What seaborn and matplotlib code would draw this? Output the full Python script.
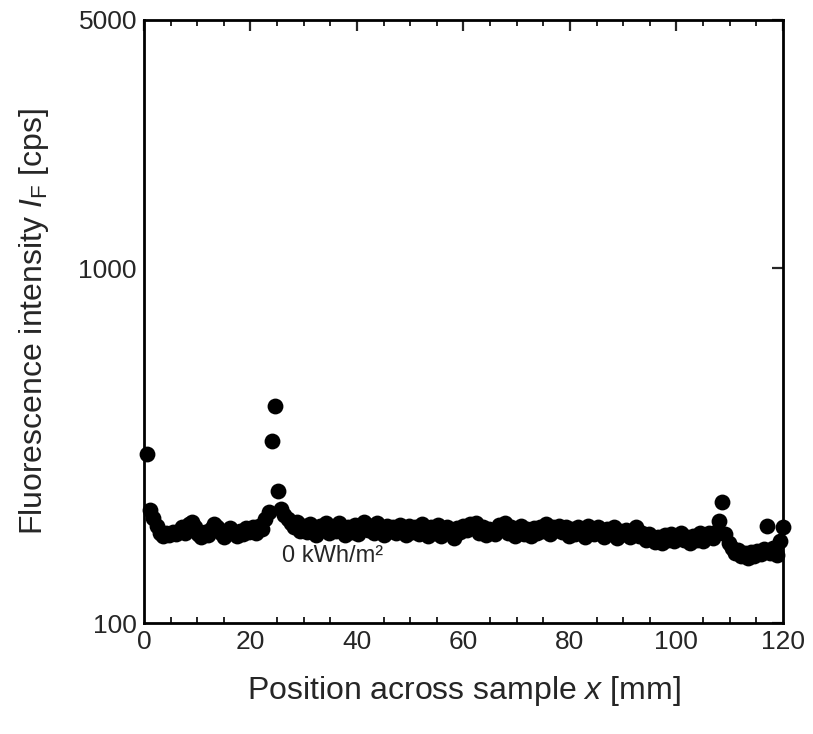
# fluorescence_profile.py
# 繪製樣品橫向位置的螢光強度分佈 (0 kWh/m²)

import numpy as np
import pandas as pd
import matplotlib
matplotlib.use("Agg")
import matplotlib.pyplot as plt
import matplotlib.ticker as mticker
import seaborn as sns

# 圖表風格 (set_style 之後再設字體)
sns.set_style("white")
plt.rcParams['font.family'] = ['Liberation Sans', 'DejaVu Sans']
plt.rcParams['mathtext.fontset'] = 'custom'
plt.rcParams['mathtext.it'] = 'Liberation Sans:italic'
plt.rcParams['mathtext.rm'] = 'Liberation Sans'

# 量測位置 x [mm] (間距 0.6 mm)
position = [
    0.6, 1.2, 1.8, 2.4, 3.0, 3.6, 4.2, 4.8, 5.4, 6.0,
    6.6, 7.2, 7.8, 8.4, 9.0, 9.6, 10.2, 10.8, 11.4, 12.0,
    12.6, 13.2, 13.8, 14.4, 15.0, 15.6, 16.2, 16.8, 17.4, 18.0,
    18.6, 19.2, 19.8, 20.4, 21.0, 21.6, 22.2, 22.8, 23.4, 24.0,
    24.6, 25.2, 25.8, 26.4, 27.0, 27.6, 28.2, 28.8, 29.4, 30.0,
    30.6, 31.2, 31.8, 32.4, 33.0, 33.6, 34.2, 34.8, 35.4, 36.0,
    36.6, 37.2, 37.8, 38.4, 39.0, 39.6, 40.2, 40.8, 41.4, 42.0,
    42.6, 43.2, 43.8, 44.4, 45.0, 45.6, 46.2, 46.8, 47.4, 48.0,
    48.6, 49.2, 49.8, 50.4, 51.0, 51.6, 52.2, 52.8, 53.4, 54.0,
    54.6, 55.2, 55.8, 56.4, 57.0, 57.6, 58.2, 58.8, 59.4, 60.0,
    60.6, 61.2, 61.8, 62.4, 63.0, 63.6, 64.2, 64.8, 65.4, 66.0,
    66.6, 67.2, 67.8, 68.4, 69.0, 69.6, 70.2, 70.8, 71.4, 72.0,
    72.6, 73.2, 73.8, 74.4, 75.0, 75.6, 76.2, 76.8, 77.4, 78.0,
    78.6, 79.2, 79.8, 80.4, 81.0, 81.6, 82.2, 82.8, 83.4, 84.0,
    84.6, 85.2, 85.8, 86.4, 87.0, 87.6, 88.2, 88.8, 89.4, 90.0,
    90.6, 91.2, 91.8, 92.4, 93.0, 93.6, 94.2, 94.8, 95.4, 96.0,
    96.6, 97.2, 97.8, 98.4, 99.0, 99.6, 100.2, 100.8, 101.4, 102.0,
    102.6, 103.2, 103.8, 104.4, 105.0, 105.6, 106.2, 106.8, 107.4, 108.0,
    108.6, 109.2, 109.8, 110.4, 111.0, 111.6, 112.2, 112.8, 113.4, 114.0,
    114.6, 115.2, 115.8, 116.4, 117.0, 117.6, 118.2, 118.8, 119.4, 120.0,
]

# 螢光強度 I_F [cps]
intensity = [
    300, 208, 198, 188, 180, 176, 179, 177, 181, 178,
    182, 186, 180, 190, 193, 186, 178, 175, 181, 177,
    184, 190, 186, 180, 175, 179, 185, 180, 176, 182,
    178, 185, 181, 186, 180, 188, 184, 196, 206, 326,
    408, 235, 210, 201, 196, 191, 186, 193, 182, 188,
    181, 190, 184, 177, 188, 183, 192, 179, 186, 182,
    191, 184, 177, 186, 181, 189, 178, 186, 193, 183,
    188, 180, 191, 184, 177, 188, 182, 186, 179, 189,
    183, 177, 188, 181, 186, 178, 190, 184, 176, 187,
    180, 189, 176, 183, 186, 179, 174, 185, 181, 188,
    183, 190, 186, 192, 180, 187, 177, 184, 181, 178,
    189, 184, 191, 179, 186, 176, 183, 188, 178, 184,
    176, 185, 180, 187, 182, 190, 178, 186, 183, 188,
    181, 187, 176, 184, 178, 186, 180, 175, 188, 183,
    178, 186, 180, 175, 184, 179, 186, 174, 182, 178,
    183, 175, 181, 186, 176, 180, 172, 178, 174, 169,
    175, 168, 177, 172, 178, 170, 176, 180, 171, 175,
    168, 176, 172, 179, 170, 175, 180, 174, 181, 194,
    219, 178, 168, 163, 158, 161, 155, 158, 153, 159,
    155, 160, 157, 162, 188, 158, 163, 156, 170, 186,
]

# 刻度設定
x_major = [0, 20, 40, 60, 80, 100, 120]
y_ticks = [100, 1000, 5000]
y_labels = ["100", "1000", "5000"]

df = pd.DataFrame({"x": position, "IF": intensity})

fig = plt.figure(figsize=(8.13, 7.34), dpi=100)
ax = fig.add_axes([0.177, 0.151, 0.786, 0.822])

sns.scatterplot(data=df, x="x", y="IF", ax=ax, color="black", s=130,
                linewidth=0, clip_on=False, legend=False, zorder=3)

ax.set_yscale("log")
ax.set_xlim(0, 120)
ax.set_ylim(100, 5000)

ax.set_xticks(x_major)
ax.xaxis.set_minor_locator(mticker.MultipleLocator(5))
ax.set_yticks(y_ticks)
ax.set_yticklabels(y_labels)
ax.yaxis.set_minor_locator(mticker.NullLocator())

ax.tick_params(axis="both", which="major", direction="in", length=8, width=1.6,
               top=True, right=True, labelsize=19, pad=5)
ax.tick_params(axis="x", which="minor", direction="in", length=4, width=1.4,
               top=True, bottom=True)

for sp in ax.spines.values():
    sp.set_linewidth(2)
    sp.set_color("black")

ax.set_xlabel("Position across sample $x$ [mm]", fontsize=23, labelpad=14)
ax.set_ylabel("Fluorescence intensity $I_\\mathrm{F}$ [cps]", fontsize=23, labelpad=20)

# 標註
ax.text(35.5, 155, "0 kWh/m²", fontsize=17, ha="center", va="center")

plt.savefig("out.png", dpi=100)
plt.close()
